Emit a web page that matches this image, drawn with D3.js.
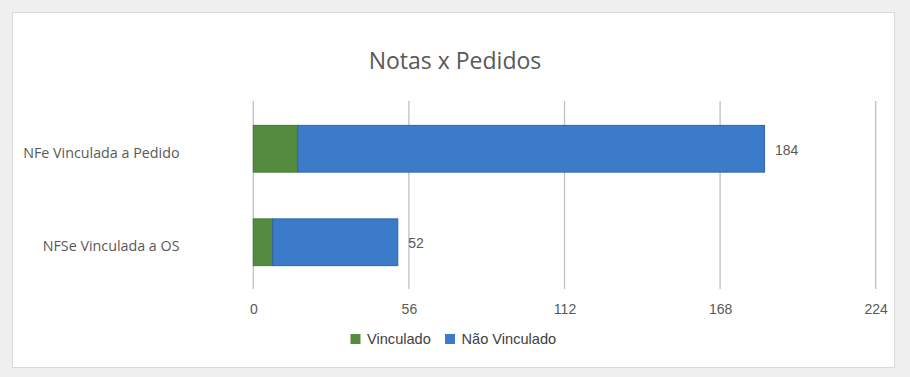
<!DOCTYPE html>
<html><head><meta charset="utf-8">
<script src="https://cdn.jsdelivr.net/npm/d3@7"></script>
<style>
body{margin:0;background:#f0f0f0;}
svg{display:block;}
</style></head>
<body>
<svg id="c" width="910" height="377"></svg>
<script>
const categories = ["NFe Vinculada a Pedido", "NFSe Vinculada a OS"];
const seriesNames = ["Vinculado", "Não Vinculado"];
const vinculado = [16, 7];
const naoVinculado = [168, 45];
const totals = [184, 52];
const tickValues = [0, 56, 112, 168, 224];
const colors = ["#548b3f", "#3b7bca"];
const strokes = ["#44763a", "#2f63a8"];
const arial = "\"Liberation Sans\",Arial,sans-serif";
const segoe = "\"Open Sans\",\"Noto Sans\",sans-serif";

const svg = d3.select("#c");
svg.append("rect").attr("x",12.5).attr("y",12.5).attr("width",882).attr("height",355)
  .attr("fill","#fff").attr("stroke","#d9d9d9");

svg.append("text").attr("x",455).attr("y",69).attr("text-anchor","middle")
  .style("font-family",segoe).attr("font-size",23).attr("fill","#595959").text("Notas x Pedidos");

const x = d3.scaleLinear().domain([0,224]).range([253.3,875.7]);
const y = d3.scaleBand().domain(categories).range([102,289]).paddingInner(0.5).paddingOuter(0.25);

// gridlines
svg.append("g").selectAll("line").data(tickValues).join("line")
  .attr("x1",d=>x(d)).attr("x2",d=>x(d)).attr("y1",101).attr("y2",289)
  .attr("stroke","#bfbfbf").attr("stroke-width",1.3);

// x axis labels
const xa = svg.append("g").attr("transform","translate(0,289)")
  .call(d3.axisBottom(x).tickValues(tickValues).tickSize(0).tickPadding(14));
xa.select(".domain").remove();
xa.selectAll("text").style("font-family",arial).style("font-size","14px").attr("fill","#595959")
  .attr("dy",null).attr("y",25);

// y axis labels
const ya = svg.append("g").attr("transform","translate(179.5,0)")
  .call(d3.axisLeft(y).tickSize(0).tickPadding(0));
ya.select(".domain").remove();
ya.selectAll("text").style("font-family",segoe).style("font-size","14.3px").attr("fill","#595959")
  .attr("dy",null).attr("y",9);

// stacked bars
const rows = categories.map((c,i)=>({cat:c, Vinculado:vinculado[i], "Não Vinculado":naoVinculado[i]}));
const stack = d3.stack().keys(seriesNames)(rows);
svg.append("g").selectAll("g").data(stack).join("g")
  .attr("fill",(d,i)=>colors[i]).attr("stroke",(d,i)=>strokes[i])
  .selectAll("rect").data(d=>d).join("rect")
  .attr("x",d=>x(d[0])).attr("width",d=>x(d[1])-x(d[0]))
  .attr("y",d=>y(d.data.cat)).attr("height",y.bandwidth()).attr("stroke-width",1);

// totals labels
svg.append("g").selectAll("text").data(categories).join("text")
  .attr("x",(d,i)=>x(totals[i])+10.5).attr("y",d=>y(d)+y.bandwidth()/2+6)
  .style("font-family",arial).style("font-size","14px").attr("fill","#595959").text((d,i)=>totals[i]);

// legend
const legend = [{name:seriesNames[0],x:350.5},{name:seriesNames[1],x:445}];
const lg = svg.append("g").selectAll("g").data(legend).join("g")
  .attr("transform",d=>`translate(${d.x},334)`);
lg.append("rect").attr("width",10).attr("height",10).attr("fill",(d,i)=>colors[i]);
lg.append("text").attr("x",16.5).attr("y",10.3).style("font-family",arial).style("font-size","14.6px")
  .attr("fill","#404040").text(d=>d.name);
</script>
</body></html>
